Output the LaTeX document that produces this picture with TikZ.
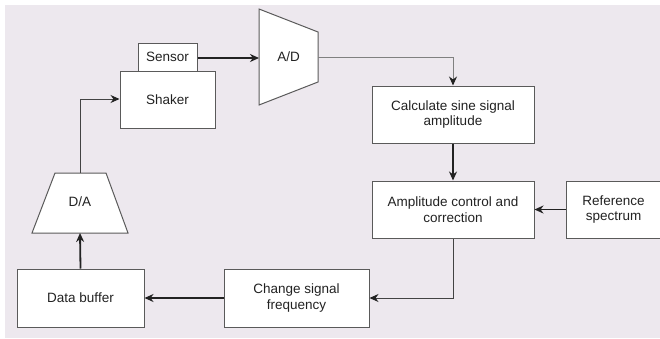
\documentclass[tikz,border=0pt]{standalone}
\usepackage{fontspec}
\setmainfont{Liberation Sans}
\usetikzlibrary{arrows.meta}
\definecolor{bg}{HTML}{EDE8EE}
\definecolor{bord}{HTML}{5A5A5A}
\definecolor{ink}{HTML}{222222}
\definecolor{thin}{HTML}{808080}
\tikzset{
  blk/.style={draw=bord, line width=1pt, fill=white, text=ink, align=center, inner sep=0pt,
    font=\fontsize{13.5}{15.5}\selectfont},
  thick arr/.style={draw=ink, line width=1.8pt, -{Stealth[length=9pt,width=8pt]}},
  thin arr/.style={draw=ink!85, line width=1pt, -{Stealth[length=9pt,width=8pt,color=ink]}},
  gray arr/.style={draw=thin, line width=1pt, -{Stealth[length=9pt,width=8pt,color=ink]}},
  lbl/.style={text=ink, font=\fontsize{13.5}{15.5}\selectfont, inner sep=0pt},
}
\begin{document}
\begin{tikzpicture}[x=1pt,y=-1pt]
\useasboundingbox (0,0) rectangle (660,338);
\fill[bg] (5,5) rectangle (660,338);

% blocks
\node[blk, minimum width=95pt, minimum height=57pt] (shaker) at (167.5,99.5) {Shaker};
\node[blk, minimum width=59pt, minimum height=28pt] (sensor) at (167.5,57) {Sensor};
\node[blk, minimum width=162pt, minimum height=57pt] (calc) at (453,114.5) {Calculate sine signal\\amplitude};
\node[blk, minimum width=162pt, minimum height=57pt] (amp) at (453,209.5) {Amplitude control and\\correction};
\node[blk, minimum width=95pt, minimum height=57pt] (ref) at (613.5,209.5) {Reference\\spectrum};
\node[blk, minimum width=145pt, minimum height=58pt] (change) at (296.5,298) {Change signal\\frequency};
\node[blk, minimum width=127pt, minimum height=58pt] (data) at (80.5,298) {Data buffer};

% A/D converter
\draw[draw=bord, line width=1pt, fill=white] (259,9) -- (318,32) -- (318,82) -- (259,105) -- cycle;
\node[lbl] (ad) at (288.5,57) {A/D};
\coordinate (adin) at (259,58);
\coordinate (adout) at (318,57);
\coordinate (adcorner) at (453,57);

% D/A converter
\draw[draw=bord, line width=1pt, fill=white] (55,173) -- (106,173) -- (128,233) -- (32,233) -- cycle;
\node[lbl] (da) at (80,202) {D/A};
\coordinate (dabot) at (80,233);
\coordinate (datop) at (80,173);
\coordinate (dacorner) at (80,99);

\coordinate (ampcorner) at (453,298);

% connectors
\draw[thick arr] (sensor.east |- adin) -- (adin);
\draw[gray arr] (adout) -- (adcorner) -- (calc.north);
\draw[thick arr] (calc.south) -- (amp.north);
\draw[thick arr] (ref.west) -- (amp.east);
\draw[thin arr] (amp.south) -- (ampcorner) -- (change.east);
\draw[thick arr] (change.west) -- (data.east);
\draw[thick arr] (data.north) -- (dabot);
\draw[thin arr] (datop) -- (dacorner) -- (shaker.west |- dacorner);
\end{tikzpicture}
\end{document}
